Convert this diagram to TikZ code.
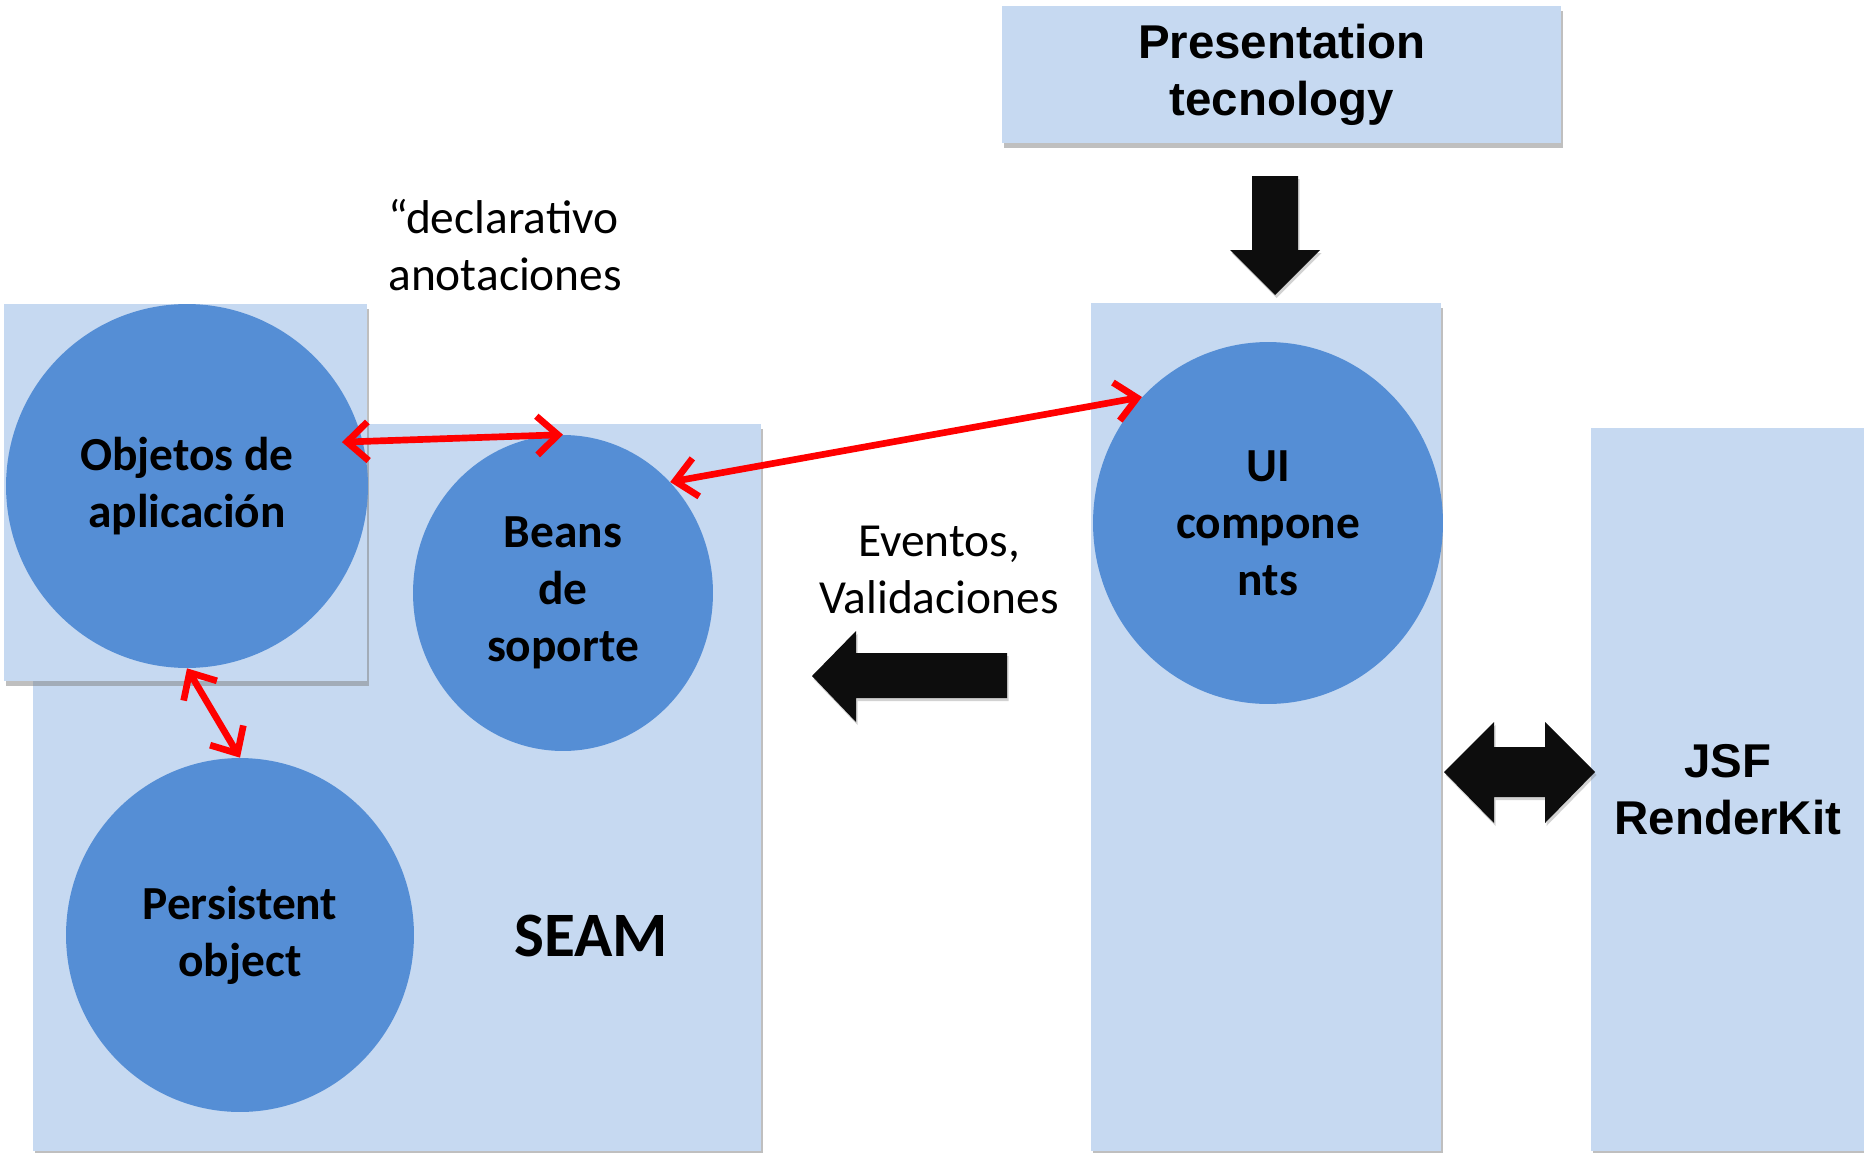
\documentclass[tikz,border=0pt]{standalone}
\usepackage{fontspec}
\setmainfont{Carlito}
\newfontfamily\arialfont{Liberation Sans}
\usetikzlibrary{shapes.geometric,arrows.meta,shadows}
\definecolor{paleblue}{RGB}{198,217,241}
\definecolor{ballblue}{RGB}{85,142,213}
\definecolor{blockblack}{RGB}{13,13,13}
\newcommand{\labelsize}{\fontsize{27}{32.4}\selectfont}
\begin{document}
\begin{tikzpicture}[x=0.02cm,y=-0.02cm,
  layer box/.style={fill=paleblue,inner sep=0,anchor=north west,
    drop shadow={shadow xshift=0.04cm,shadow yshift=-0.1cm,opacity=0.5}},
  ball/.style={ellipse,fill=ballblue,inner sep=0,align=center,
    font=\labelsize\bfseries},
  plain text/.style={inner sep=0,font=\labelsize},
  block arrow/.style={fill=blockblack,
    drop shadow={shadow xshift=0.03cm,shadow yshift=-0.06cm,opacity=0.35}},
  link/.style={draw=red,line width=3.8pt,
    {Straight Barb[length=12pt,width=22pt]}-{Straight Barb[length=12pt,width=22pt]}}]
\useasboundingbox[fill=white] (0,0) rectangle (1864,1153);
\node[layer box,minimum width=14.56cm,minimum height=14.54cm] (seam) at (33,424) {};
\node[layer box,minimum width=7.26cm,minimum height=7.54cm] (appbox) at (4,304) {};
\node[layer box,minimum width=7cm,minimum height=16.96cm] (uicol) at (1091,303) {};
\node[layer box,minimum width=5.46cm,minimum height=14.46cm,align=center,
  font=\arialfont\labelsize\bfseries] (jsf) at (1591,428) {JSF\\RenderKit};
\node[layer box,minimum width=11.18cm,minimum height=2.74cm,align=center,
  font=\arialfont\labelsize\bfseries] (pres) at (1002,6) {Presentation\\tecnology};
\node[ball,minimum width=7.24cm,minimum height=7.28cm] (objetos) at (187,486) {Objetos de\\aplicación};
\node[ball,minimum width=6cm,minimum height=6.32cm] (beans) at (563,593) {Beans\\de\\soporte};
\node[ball,minimum width=6.96cm,minimum height=7.08cm] (persist) at (240,935) {Persistent\\object};
\node[ball,minimum width=7cm,minimum height=7.24cm] (ui) at (1268,523) {UI\\compone\\nts};
\node[inner sep=0,font=\fontsize{36}{43}\selectfont\bfseries] (seamlabel) at (591,936) {SEAM};
\node[plain text,align=center] (eventos) at (939,570) {Eventos,\\Validaciones};
\node[plain text,align=left,anchor=west] (declarativo) at (388,245) {“declarativo\\anotaciones};
\fill[block arrow] (1252,176) -- (1298,176) -- (1298,250) -- (1320,250) -- (1275,295)
  -- (1230,250) -- (1252,250) -- cycle;
\fill[block arrow] (1007,653) -- (856,653) -- (856,631) -- (812,676) -- (856,722)
  -- (856,698) -- (1007,698) -- cycle;
\fill[block arrow] (1444,772) -- (1494,722) -- (1494,747) -- (1545,747) -- (1545,722)
  -- (1595,772) -- (1545,823) -- (1545,797) -- (1494,797) -- (1494,823) -- cycle;
\draw[link] ([xshift=-0.42cm]objetos.14) -- (beans.north);
\draw[link] (beans.46) -- (ui.135);
\draw[link] (objetos.south) -- (persist.north);
\end{tikzpicture}
\end{document}
